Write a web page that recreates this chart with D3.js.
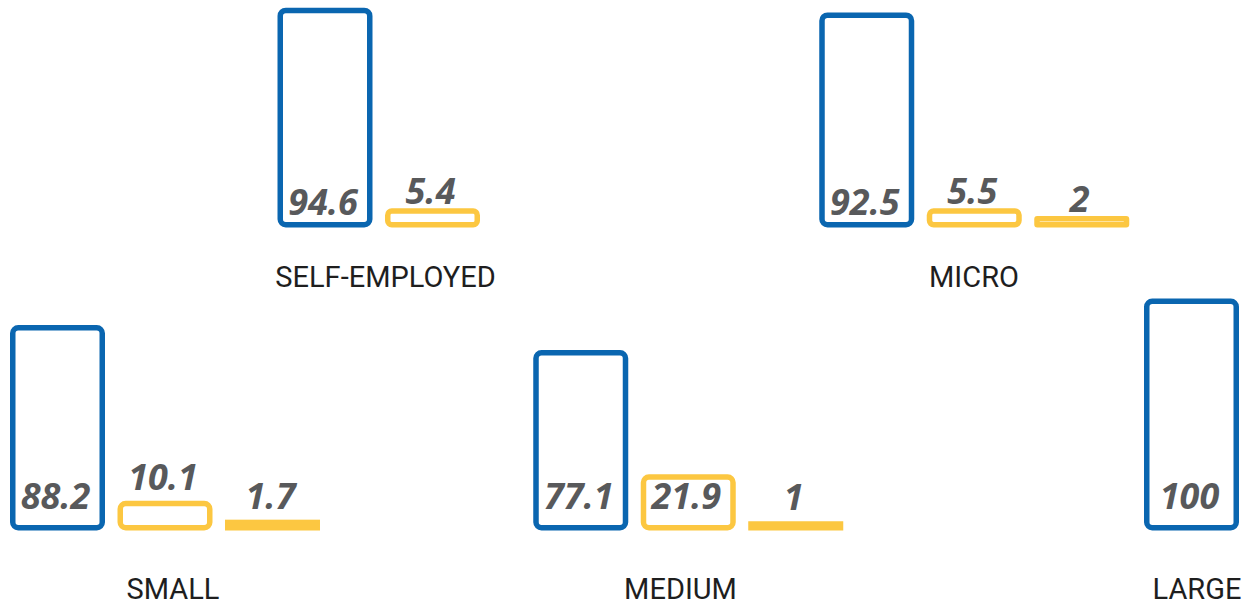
<!DOCTYPE html>
<html>
<head>
<meta charset="utf-8">
<script src="https://cdn.jsdelivr.net/npm/d3@7"></script>
<style>
  html, body { margin: 0; padding: 0; background: #ffffff; }
  svg { display: block; }
</style>
</head>
<body>
<div id="chart"></div>
<script>
// Firm-size groups and the share for each of up to three series
const categories = ["SELF-EMPLOYED", "MICRO", "SMALL", "MEDIUM", "LARGE"];
const seriesKeys = ["first", "second", "third"];
const valuesFirst  = [94.6, 92.5, 88.2, 77.1, 100];
const valuesSecond = [5.4, 5.5, 10.1, 21.9, null];
const valuesThird  = [null, 2, 1.7, 1, null];

const width = 1248, height = 606;
const BLUE = "#0a66b0", YELLOW = "#fcc741", LABEL = "#58595b", TITLE = "#1e1e1e";
const strokeW = 5.5;

// panel placement: row index, left edge of first bar, centre of the caption
const panelLayout = [
  { row: 0, x: 280.25, titleX: 385.5 },
  { row: 0, x: 822,    titleX: 974 },
  { row: 1, x: 12.75,  titleX: 173 },
  { row: 1, x: 536,    titleX: 680.5 },
  { row: 1, x: 1146.75, titleX: 1197 }
];
const rowLayout = [
  { base: 227.5, titleY: 286.5, insidePad: 13, abovePad: 4 },
  { base: 530.5, titleY: 598.5, insidePad: 22, abovePad: 11 }
];

const seriesValues = [valuesFirst, valuesSecond, valuesThird];
const seriesColor = d3.scaleOrdinal().domain(seriesKeys).range([BLUE, YELLOW, YELLOW]);

// band scale inside one panel, outer height scale for the bars
const x = d3.scaleBand().domain(seriesKeys).range([0, 304.5]).paddingInner(0.1674).paddingOuter(0);
const h = d3.scaleLinear().domain([0, 100]).range([7, 232]);

const svg = d3.select("#chart").append("svg")
  .attr("width", width).attr("height", height)
  .attr("viewBox", `0 0 ${width} ${height}`);

const panels = categories.map((name, i) => ({
  name,
  layout: panelLayout[i],
  row: rowLayout[panelLayout[i].row],
  bars: seriesKeys
    .map((k, s) => ({ key: k, value: seriesValues[s][i] }))
    .filter(d => d.value != null)
}));

const g = svg.selectAll("g.panel").data(panels).join("g")
  .attr("class", "panel")
  .attr("transform", d => `translate(${d.layout.x},0)`);

g.each(function (p) {
  const sel = d3.select(this);
  const base = p.row.base;

  const bar = sel.selectAll("g.bar").data(p.bars).join("g").attr("class", "bar");

  bar.append("rect")
    .attr("x", d => x(d.key))
    .attr("y", d => base - h(d.value) + strokeW / 2)
    .attr("width", x.bandwidth())
    .attr("height", d => Math.max(h(d.value) - strokeW, 0.01))
    .attr("rx", d => Math.max(0, Math.min(5.5, (h(d.value) - 2 * strokeW) / 2)))
    .attr("fill", "#ffffff")
    .attr("stroke", d => seriesColor(d.key))
    .attr("stroke-width", strokeW);

  bar.append("text")
    .attr("x", d => x(d.key) + x.bandwidth() / 2 - 2)
    .attr("y", d => {
      const hh = h(d.value);
      return hh > 40 ? base - p.row.insidePad : base - hh - p.row.abovePad;
    })
    .attr("text-anchor", "middle")
    .attr("font-family", "'Open Sans', sans-serif")
    .attr("font-weight", 700)
    .attr("font-style", "italic")
    .attr("font-size", 36)
    .attr("fill", LABEL)
    .text(d => String(d.value));

  sel.append("text")
    .attr("x", p.layout.titleX - p.layout.x)
    .attr("y", p.row.titleY)
    .attr("text-anchor", "middle")
    .attr("font-family", "Roboto, sans-serif")
    .attr("font-size", 29)
    .attr("fill", TITLE)
    .text(p.name);
});
</script>
</body>
</html>
